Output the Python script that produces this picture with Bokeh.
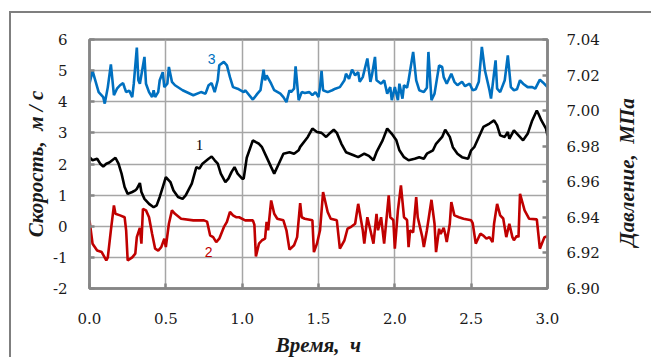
import math
from bokeh.plotting import figure
from bokeh.models import (LinearAxis, Range1d, FixedTicker, NumeralTickFormatter, Label)
from bokeh.embed import file_html
from bokeh.resources import INLINE

# Series 1 (black)
t1 = [0.00, 0.02, 0.05, 0.07, 0.09, 0.11, 0.13, 0.17, 0.19, 0.21, 0.23, 0.25, 0.28, 0.30, 0.31,
      0.33, 0.34, 0.36, 0.39, 0.42, 0.44, 0.46, 0.48, 0.50, 0.53, 0.55, 0.58, 0.61, 0.63, 0.67,
      0.70, 0.72, 0.74, 0.78, 0.80, 0.82, 0.84, 0.86, 0.89, 0.91, 0.93, 0.95, 0.97, 1.00, 1.01,
      1.03, 1.07, 1.09, 1.11, 1.13, 1.16, 1.19, 1.21, 1.24, 1.27, 1.31, 1.34, 1.37, 1.38, 1.43,
      1.46, 1.49, 1.52, 1.55, 1.57, 1.60, 1.62, 1.65, 1.68, 1.73, 1.76, 1.80, 1.83, 1.86, 1.88,
      1.92, 1.95, 1.98, 2.01, 2.03, 2.06, 2.09, 2.13, 2.16, 2.19, 2.21, 2.25, 2.27, 2.29, 2.31,
      2.33, 2.36, 2.38, 2.41, 2.44, 2.48, 2.50, 2.52, 2.56, 2.58, 2.62, 2.65, 2.67, 2.69, 2.72,
      2.74, 2.75, 2.78, 2.81, 2.84, 2.87, 2.90, 2.93, 2.94, 2.96, 2.99, 3.00]
v1 = [2.22, 2.12, 2.17, 2.01, 1.92, 2.01, 2.05, 2.20, 2.01, 1.69, 1.26, 1.04, 1.10, 1.15, 1.20,
      1.39, 1.10, 0.88, 0.72, 0.61, 0.67, 0.94, 1.26, 1.58, 1.42, 1.15, 0.94, 0.88, 0.99, 1.37,
      1.90, 1.85, 2.01, 2.17, 2.24, 2.12, 2.01, 1.69, 1.42, 1.53, 1.74, 1.90, 1.69, 1.53, 1.53,
      2.20, 2.76, 2.70, 2.65, 2.54, 2.22, 1.90, 1.69, 2.01, 2.33, 2.38, 2.33, 2.44, 2.55, 2.87,
      3.14, 3.03, 3.00, 2.87, 2.97, 3.10, 3.00, 2.65, 2.38, 2.28, 2.22, 2.33, 2.26, 2.12, 2.38,
      2.76, 3.14, 2.97, 2.76, 2.44, 2.22, 2.12, 2.17, 2.22, 2.17, 2.33, 2.44, 2.65, 2.76, 2.87,
      3.10, 2.87, 2.54, 2.33, 2.22, 2.17, 2.44, 2.54, 2.97, 3.19, 3.30, 3.40, 3.24, 2.92, 2.87,
      3.03, 2.81, 3.08, 2.92, 2.76, 2.97, 3.40, 3.72, 3.62, 3.40, 3.14, 2.92]

# Series 2 (red)
t2 = [0.00, 0.02, 0.05, 0.08, 0.11, 0.12, 0.14, 0.16, 0.17, 0.20, 0.23, 0.24, 0.25, 0.28, 0.30,
      0.31, 0.33, 0.34, 0.35, 0.37, 0.39, 0.41, 0.43, 0.45, 0.47, 0.49, 0.50, 0.52, 0.54, 0.56,
      0.60, 0.68, 0.75, 0.77, 0.79, 0.81, 0.83, 0.85, 0.88, 0.90, 0.92, 0.94, 0.96, 0.98, 1.02,
      1.07, 1.08, 1.09, 1.11, 1.13, 1.15, 1.16, 1.17, 1.19, 1.21, 1.23, 1.27, 1.29, 1.31, 1.34,
      1.36, 1.38, 1.39, 1.41, 1.46, 1.47, 1.49, 1.51, 1.53, 1.56, 1.58, 1.62, 1.64, 1.67, 1.69,
      1.71, 1.74, 1.76, 1.79, 1.80, 1.82, 1.84, 1.86, 1.88, 1.89, 1.91, 1.93, 1.96, 1.97, 1.99,
      2.00, 2.02, 2.04, 2.06, 2.08, 2.09, 2.10, 2.12, 2.14, 2.15, 2.18, 2.19, 2.21, 2.24, 2.26,
      2.27, 2.29, 2.30, 2.32, 2.33, 2.34, 2.36, 2.37, 2.39, 2.42, 2.45, 2.50, 2.51, 2.53, 2.56,
      2.58, 2.60, 2.62, 2.64, 2.65, 2.67, 2.69, 2.71, 2.73, 2.75, 2.77, 2.78, 2.80, 2.81, 2.82,
      2.85, 2.88, 2.93, 2.95, 2.98, 3.00]
v2 = [0.19, -0.56, -0.78, -0.83, -1.10, -1.00, -0.13, 0.67, 0.40, 0.35, 0.29, -0.13, -1.10, -1.00, -0.88,
      -0.35, -0.05, -0.56, 0.56, 0.51, 0.29, -0.24, -0.72, -0.78, -0.67, -0.40, -0.67, 0.08, 0.51, 0.40,
      0.24, 0.19, 0.19, 0.15, -0.29, -0.35, -0.51, -0.40, -0.03, 0.14, 0.46, 0.35, 0.29, 0.29, 0.19,
      0.19, 0.05, -0.97, -0.56, -0.45, -0.40, 0.14, -0.13, 0.83, 0.40, 0.24, 0.19, -0.13, -0.75, -0.61,
      -0.35, 0.74, 0.29, 0.24, 0.19, -0.83, -0.56, -0.13, 1.10, 0.46, 0.24, 0.19, -0.72, -0.45, -0.08,
      -0.03, 0.08, 0.72, -0.13, -0.56, 0.29, -0.13, -0.56, 0.40, -0.13, 0.29, -0.56, 0.99, 0.29, 0.20,
      -0.72, 0.50, 1.31, 0.29, 0.20, -0.67, -0.13, -0.20, 0.94, 0.29, -0.35, -0.67, -0.13, 0.85, 0.08,
      -0.83, -0.08, -0.25, -0.05, -0.25, -0.51, 0.08, 0.78, 0.35, 0.29, 0.24, 0.19, 0.10, -0.56, -0.24,
      -0.30, -0.40, -0.35, -0.51, 0.08, 0.72, 0.35, 0.25, -0.35, 0.08, -0.35, -0.45, -0.30, -0.35, 1.04,
      0.51, 0.24, 0.22, -0.72, -0.35, -0.32]

# Series 3 (blue)
t3 = [0.00, 0.02, 0.06, 0.09, 0.10, 0.12, 0.14, 0.16, 0.18, 0.20, 0.22, 0.23, 0.24, 0.26, 0.28,
      0.29, 0.31, 0.32, 0.33, 0.36, 0.37, 0.39, 0.41, 0.42, 0.43, 0.45, 0.46, 0.48, 0.49, 0.51,
      0.52, 0.54, 0.56, 0.61, 0.68, 0.73, 0.76, 0.78, 0.80, 0.82, 0.84, 0.85, 0.88, 0.90, 0.92,
      0.94, 0.97, 1.01, 1.02, 1.07, 1.10, 1.12, 1.14, 1.15, 1.16, 1.19, 1.21, 1.25, 1.27, 1.29,
      1.31, 1.32, 1.34, 1.35, 1.37, 1.39, 1.41, 1.44, 1.46, 1.48, 1.50, 1.51, 1.52, 1.53, 1.56,
      1.59, 1.61, 1.64, 1.67, 1.68, 1.70, 1.72, 1.74, 1.76, 1.77, 1.79, 1.82, 1.84, 1.85, 1.87,
      1.88, 1.91, 1.93, 1.95, 1.97, 1.98, 2.00, 2.02, 2.03, 2.05, 2.06, 2.08, 2.09, 2.12, 2.14,
      2.16, 2.19, 2.21, 2.22, 2.24, 2.26, 2.29, 2.31, 2.32, 2.34, 2.37, 2.39, 2.41, 2.44, 2.46,
      2.49, 2.51, 2.53, 2.55, 2.57, 2.59, 2.62, 2.63, 2.66, 2.67, 2.69, 2.72, 2.74, 2.76, 2.78,
      2.80, 2.82, 2.84, 2.87, 2.90, 2.92, 2.95, 2.97, 3.00]
v3 = [4.58, 4.99, 4.31, 4.15, 3.94, 4.47, 5.20, 4.21, 4.42, 4.53, 4.60, 4.45, 4.31, 4.36, 4.15,
      4.58, 5.74, 4.69, 4.58, 5.44, 4.58, 4.31, 4.15, 4.37, 4.15, 4.31, 4.69, 4.95, 4.47, 4.58,
      5.12, 4.64, 4.53, 4.37, 4.21, 4.31, 4.26, 4.53, 4.60, 4.31, 4.69, 5.17, 5.28, 5.17, 4.79,
      4.47, 4.42, 4.31, 4.37, 4.07, 4.26, 4.37, 5.03, 4.69, 4.85, 4.58, 4.37, 4.26, 4.15, 3.99,
      4.37, 4.31, 4.42, 5.14, 4.05, 4.31, 4.28, 4.31, 4.21, 4.31, 4.15, 4.47, 4.99, 4.37, 4.31,
      4.37, 4.42, 4.47, 4.69, 4.90, 4.74, 5.03, 4.85, 4.95, 4.64, 4.79, 5.39, 4.64, 4.85, 5.44,
      4.69, 4.58, 4.69, 4.26, 4.47, 4.05, 4.47, 4.05, 4.58, 4.10, 4.53, 4.45, 4.69, 5.60, 4.69,
      4.37, 4.31, 4.45, 5.60, 4.05, 4.26, 5.17, 5.12, 4.79, 4.58, 4.90, 4.64, 4.53, 4.64, 4.50,
      4.58, 4.37, 4.40, 4.64, 5.76, 5.01, 4.37, 4.10, 5.33, 4.42, 4.31, 4.69, 5.49, 4.47, 4.37,
      4.40, 4.69, 4.58, 4.47, 4.47, 4.42, 4.71, 4.62, 4.47]

x_ticks = [0.0, 0.5, 1.0, 1.5, 2.0, 2.5, 3.0]
y_ticks = [-2, -1, 0, 1, 2, 3, 4, 5, 6]
p_ticks = [6.90, 6.92, 6.94, 6.96, 6.98, 7.00, 7.02, 7.04]

SERIF = "'Liberation Serif', 'DejaVu Serif', serif"
TICKF = "DejaVu Serif"
AX = "#868686"
GRID = "#a6a6a6"
TXT = "#1a1a1a"

# canvas origin sits at page (11, 13) because of the outer frame border
p = figure(width=642, height=346, output_backend="svg", toolbar_location=None,
           x_range=Range1d(0, 3), y_range=Range1d(-2, 6),
           min_border_left=78, min_border_right=106, min_border_top=26, min_border_bottom=71,
           background_fill_color="white", border_fill_color="white")
p.margin = (11, 0, 0, 9)
p.styles = {"border-top": "2px solid #7f7f7f", "border-left": "2px solid #7f7f7f"}
p.extra_y_ranges = {"p": Range1d(6.90, 7.04)}

p.outline_line_color = AX
p.outline_line_width = 2.5

p.xgrid.ticker = FixedTicker(ticks=x_ticks)
p.ygrid.ticker = FixedTicker(ticks=y_ticks)
for g in (p.xgrid, p.ygrid):
    g.grid_line_color = GRID
    g.grid_line_width = 1.5

def style_axis(ax):
    ax.axis_line_color = AX
    ax.axis_line_width = 2.5
    ax.major_tick_line_color = AX
    ax.major_tick_line_width = 2.5
    ax.major_tick_in = 5
    ax.major_tick_out = 0
    ax.minor_tick_line_color = None
    ax.major_label_text_font = TICKF
    ax.major_label_text_font_size = "15px"
    ax.major_label_text_color = TXT
    ax.axis_label_text_font = SERIF
    ax.axis_label_text_font_style = "bold italic"
    ax.axis_label_text_font_size = "21px"
    ax.axis_label_text_color = TXT

xa = p.xaxis[0]
style_axis(xa)
xa.ticker = FixedTicker(ticks=x_ticks)
xa.formatter = NumeralTickFormatter(format="0.0")
xa.major_label_standoff = 24
xa.axis_label = "Время,\u00a0\u00a0ч"
xa.axis_label_standoff = 6

ya = p.yaxis[0]
style_axis(ya)
ya.ticker = FixedTicker(ticks=y_ticks)
ya.formatter = NumeralTickFormatter(format="0")
ya.major_label_standoff = 22
ya.axis_label = "Скорость,\u00a0 м / с"
ya.axis_label_standoff = 2

ra = LinearAxis(y_range_name="p")
style_axis(ra)
ra.ticker = FixedTicker(ticks=p_ticks)
ra.formatter = NumeralTickFormatter(format="0.00")
ra.major_label_standoff = 19
# title reads bottom to top; starts from the bottom of the axis, lifted by leading spaces
ra.axis_label = "\u00a0" * 8 + "Давление,\u00a0 МПа"
ra.axis_label_standoff = 24
ra.axis_label_align = "start"
try:
    ra.axis_label_orientation = math.pi / 2
except Exception:
    pass
p.add_layout(ra, "right")

p.line(t3, v3, line_color="#0070c0", line_width=2.6)
p.line(t1, v1, line_color="black", line_width=2.6)
p.line(t2, v2, line_color="#c00000", line_width=2.6)

p.add_layout(Label(x=0.72, y=2.6, text="1", text_font=SERIF, text_font_size="15px",
                   text_color="black", text_align="center", text_baseline="middle"))
p.add_layout(Label(x=0.78, y=-0.84, text="2", text_font="Liberation Sans", text_font_size="14px",
                   text_color="#c00000", text_align="center", text_baseline="middle"))
p.add_layout(Label(x=0.80, y=5.36, text="3", text_font="Liberation Sans", text_font_size="14px",
                   text_color="#0070c0", text_align="center", text_baseline="middle"))

open("out.html", "w").write(file_html(p, INLINE))
